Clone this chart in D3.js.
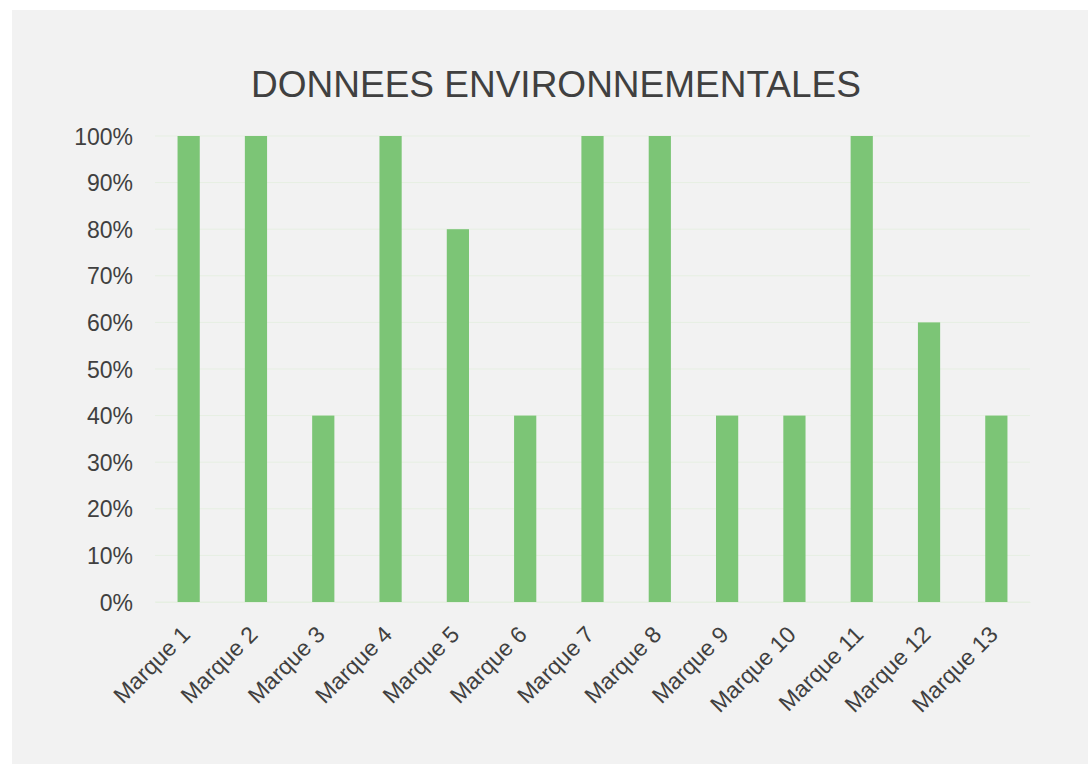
<!DOCTYPE html>
<html>
<head>
<meta charset="utf-8">
<script src="https://cdn.jsdelivr.net/npm/d3@7"></script>
<style>
  body { margin: 0; background: #fff; }
  text { font-family: "Liberation Sans", Arial, sans-serif; }
</style>
</head>
<body>
<script>
var categories = ["Marque 1", "Marque 2", "Marque 3", "Marque 4", "Marque 5", "Marque 6", "Marque 7",
  "Marque 8", "Marque 9", "Marque 10", "Marque 11", "Marque 12", "Marque 13"];
var values = [1, 1, 0.4, 1, 0.8, 0.4, 1, 1, 0.4, 0.4, 1, 0.6, 0.4];
var yTicks = [0, 0.1, 0.2, 0.3, 0.4, 0.5, 0.6, 0.7, 0.8, 0.9, 1];
var title = "DONNEES ENVIRONNEMENTALES";

var w = 1088, h = 764;
var plot = { left: 155, right: 1030, top: 136, bottom: 602 };

var svg = d3.select("body").append("svg")
    .attr("width", w)
    .attr("height", h);

// fond du graphique
svg.append("rect")
    .attr("x", 12).attr("y", 10)
    .attr("width", w - 12).attr("height", h - 10)
    .attr("fill", "#f2f2f2");

var x = d3.scaleBand()
    .domain(categories)
    .range([plot.left, plot.right])
    .paddingInner(0.67)
    .paddingOuter(0.335);

var y = d3.scaleLinear()
    .domain([0, 1])
    .range([plot.bottom, plot.top]);

// grille
svg.append("g")
  .selectAll("line")
  .data(yTicks)
  .enter().append("line")
    .attr("x1", plot.left)
    .attr("x2", plot.right)
    .attr("y1", function(d) { return y(d); })
    .attr("y2", function(d) { return y(d); })
    .attr("stroke", "#e6efe2")
    .attr("stroke-width", 1);

// barres
svg.append("g")
  .selectAll("rect")
  .data(values)
  .enter().append("rect")
    .attr("x", function(d, i) { return x(categories[i]); })
    .attr("y", function(d) { return y(d); })
    .attr("width", x.bandwidth())
    .attr("height", function(d) { return y(0) - y(d); })
    .attr("fill", "#7cc576");

// axe Y
var yAxis = svg.append("g")
    .attr("transform", "translate(" + (plot.left - 22) + ",0)")
    .call(d3.axisLeft(y).tickValues(yTicks).tickFormat(d3.format(".0%")).tickSize(0).tickPadding(0));
yAxis.select(".domain").remove();
yAxis.selectAll("text")
    .attr("dy", "0.35em")
    .attr("fill", "#404040")
    .style("font-size", "23px");

// axe X
var xAxis = svg.append("g")
    .attr("transform", "translate(0," + plot.bottom + ")")
    .call(d3.axisBottom(x).tickSize(0).tickPadding(0));
xAxis.select(".domain")
    .attr("stroke", "#e6efe2");
xAxis.selectAll("text")
    .attr("fill", "#404040")
    .style("font-size", "23px")
    .attr("text-anchor", "end")
    .attr("dy", "0")
    .attr("transform", "translate(3,34) rotate(-45)");

// titre
svg.append("text")
    .attr("x", 556)
    .attr("y", 97)
    .attr("text-anchor", "middle")
    .attr("fill", "#404040")
    .style("font-size", "37px")
    .text(title);
</script>
</body>
</html>
